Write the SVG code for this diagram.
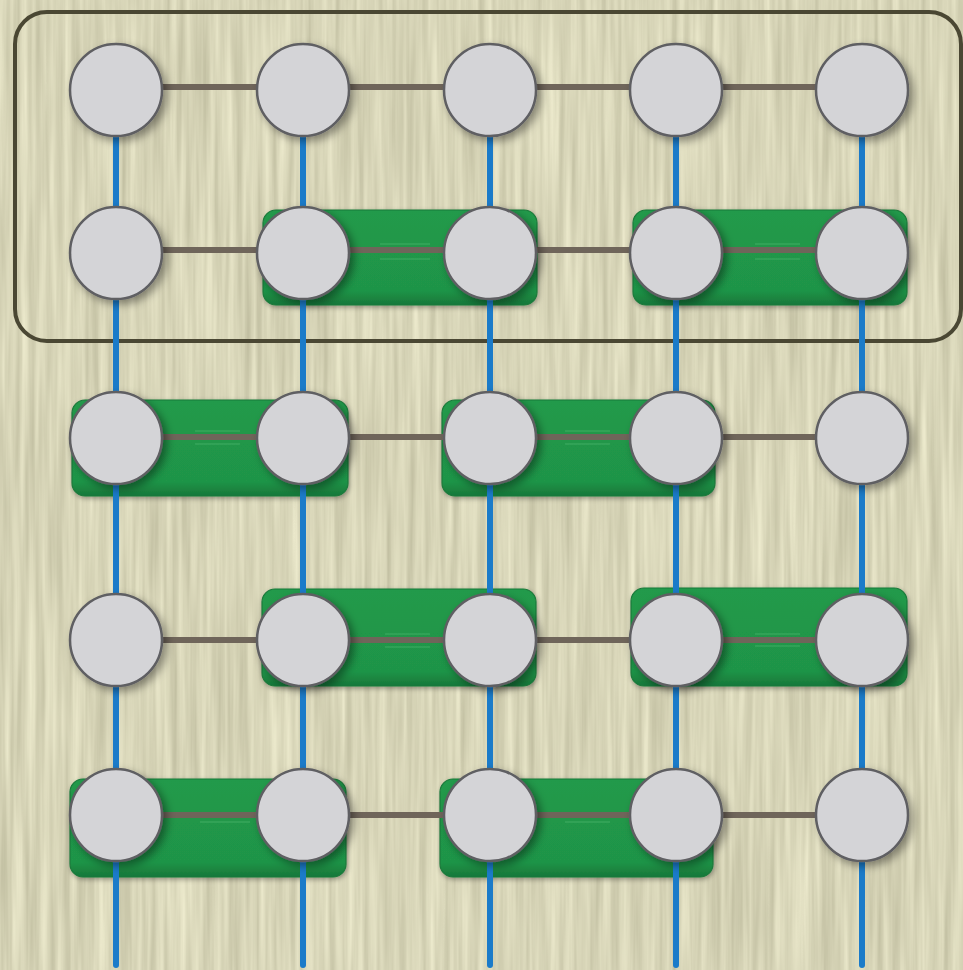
<svg xmlns="http://www.w3.org/2000/svg" width="963" height="970" viewBox="0 0 963 970">
  <style>
    .frame { fill: none; stroke: #4a4733; stroke-width: 4; }
    .pair { fill: url(#gg); stroke: #1b7a3b; stroke-width: 1.2; filter: url(#rs); }
    .hl { stroke: #6fd08c; stroke-width: 1; opacity: 0.4; }
    .v { stroke: #1b7bc9; stroke-width: 6; stroke-linecap: round; fill: none; }
    .h { stroke: #6f655a; stroke-width: 6; fill: none; }
    .node circle { fill: #d4d4d7; stroke: #5e5e62; stroke-width: 2.5; filter: url(#cs); }
  </style>
  <defs>
    <filter id="tex" x="0" y="0" width="100%" height="100%" color-interpolation-filters="sRGB">
      <feTurbulence type="fractalNoise" baseFrequency="0.14 0.005" numOctaves="3" seed="4"/>
      <feColorMatrix type="matrix" values="0.22 0 0 0 0.735  0.22 0 0 0 0.725  0.22 0 0 0 0.61  0 0 0 0 1"/>
    </filter>
    <filter id="cs" x="-30%" y="-30%" width="170%" height="170%">
      <feDropShadow dx="4" dy="4" stdDeviation="4.5" flood-color="#000" flood-opacity="0.4"/>
    </filter>
    <filter id="rs" x="-10%" y="-20%" width="120%" height="150%">
      <feDropShadow dx="1" dy="2" stdDeviation="2.5" flood-color="#000" flood-opacity="0.35"/>
    </filter>
    <linearGradient id="gg" x1="0" y1="0" x2="0" y2="1">
      <stop offset="0" stop-color="#219a4b"/>
      <stop offset="0.85" stop-color="#1f9447"/>
      <stop offset="1" stop-color="#17773a"/>
    </linearGradient>
  </defs>

  <rect x="0" y="0" width="963" height="970" fill="#d7d5b8"/>
  <rect x="0" y="0" width="963" height="970" filter="url(#tex)"/>

  <rect class="frame" x="15" y="12" width="946" height="329" rx="32"/>

  <g id="pairs">
    <g id="pair-r2-c23"><rect class="pair" x="263" y="210" width="274" height="95" rx="13"/><line class="hl" x1="380" y1="244" x2="430" y2="244"/><line class="hl" x1="380" y1="259" x2="430" y2="259"/></g>
    <g id="pair-r2-c45"><rect class="pair" x="633" y="210" width="274" height="95" rx="13"/><line class="hl" x1="755" y1="244" x2="800" y2="244"/><line class="hl" x1="755" y1="259" x2="800" y2="259"/></g>
    <g id="pair-r3-c12"><rect class="pair" x="72" y="400" width="276" height="96" rx="13"/><line class="hl" x1="195" y1="431" x2="240" y2="431"/><line class="hl" x1="195" y1="444" x2="240" y2="444"/></g>
    <g id="pair-r3-c34"><rect class="pair" x="442" y="400" width="273" height="96" rx="13"/><line class="hl" x1="565" y1="431" x2="610" y2="431"/><line class="hl" x1="565" y1="444" x2="610" y2="444"/></g>
    <g id="pair-r4-c23"><rect class="pair" x="262" y="589" width="274" height="97" rx="13"/><line class="hl" x1="385" y1="634" x2="430" y2="634"/><line class="hl" x1="385" y1="647" x2="430" y2="647"/></g>
    <g id="pair-r4-c45"><rect class="pair" x="631" y="588" width="276" height="98" rx="13"/><line class="hl" x1="755" y1="634" x2="800" y2="634"/><line class="hl" x1="755" y1="646" x2="800" y2="646"/></g>
    <g id="pair-r5-c12"><rect class="pair" x="70" y="779" width="276" height="98" rx="13"/><line class="hl" x1="200" y1="822" x2="250" y2="822"/></g>
    <g id="pair-r5-c34"><rect class="pair" x="440" y="779" width="273" height="98" rx="13"/><line class="hl" x1="565" y1="822" x2="610" y2="822"/></g>
  </g>

  <g id="connectors">
    <line class="v" x1="116" y1="90" x2="116" y2="965"/>
    <line class="v" x1="303" y1="90" x2="303" y2="965"/>
    <line class="v" x1="490" y1="90" x2="490" y2="965"/>
    <line class="v" x1="676" y1="90" x2="676" y2="965"/>
    <line class="v" x1="862" y1="90" x2="862" y2="965"/>
    <line class="h" x1="116" y1="87" x2="862" y2="87"/>
    <line class="h" x1="116" y1="250" x2="862" y2="250"/>
    <line class="h" x1="116" y1="437" x2="862" y2="437"/>
    <line class="h" x1="116" y1="640" x2="862" y2="640"/>
    <line class="h" x1="116" y1="815" x2="862" y2="815"/>
  </g>

  <g id="nodes">
    <g class="node" id="n11"><circle cx="116" cy="90" r="46"/></g>
    <g class="node" id="n12"><circle cx="303" cy="90" r="46"/></g>
    <g class="node" id="n13"><circle cx="490" cy="90" r="46"/></g>
    <g class="node" id="n14"><circle cx="676" cy="90" r="46"/></g>
    <g class="node" id="n15"><circle cx="862" cy="90" r="46"/></g>

    <g class="node" id="n21"><circle cx="116" cy="253" r="46"/></g>
    <g class="node" id="n22"><circle cx="303" cy="253" r="46"/></g>
    <g class="node" id="n23"><circle cx="490" cy="253" r="46"/></g>
    <g class="node" id="n24"><circle cx="676" cy="253" r="46"/></g>
    <g class="node" id="n25"><circle cx="862" cy="253" r="46"/></g>

    <g class="node" id="n31"><circle cx="116" cy="438" r="46"/></g>
    <g class="node" id="n32"><circle cx="303" cy="438" r="46"/></g>
    <g class="node" id="n33"><circle cx="490" cy="438" r="46"/></g>
    <g class="node" id="n34"><circle cx="676" cy="438" r="46"/></g>
    <g class="node" id="n35"><circle cx="862" cy="438" r="46"/></g>

    <g class="node" id="n41"><circle cx="116" cy="640" r="46"/></g>
    <g class="node" id="n42"><circle cx="303" cy="640" r="46"/></g>
    <g class="node" id="n43"><circle cx="490" cy="640" r="46"/></g>
    <g class="node" id="n44"><circle cx="676" cy="640" r="46"/></g>
    <g class="node" id="n45"><circle cx="862" cy="640" r="46"/></g>

    <g class="node" id="n51"><circle cx="116" cy="815" r="46"/></g>
    <g class="node" id="n52"><circle cx="303" cy="815" r="46"/></g>
    <g class="node" id="n53"><circle cx="490" cy="815" r="46"/></g>
    <g class="node" id="n54"><circle cx="676" cy="815" r="46"/></g>
    <g class="node" id="n55"><circle cx="862" cy="815" r="46"/></g>
  </g>
</svg>
